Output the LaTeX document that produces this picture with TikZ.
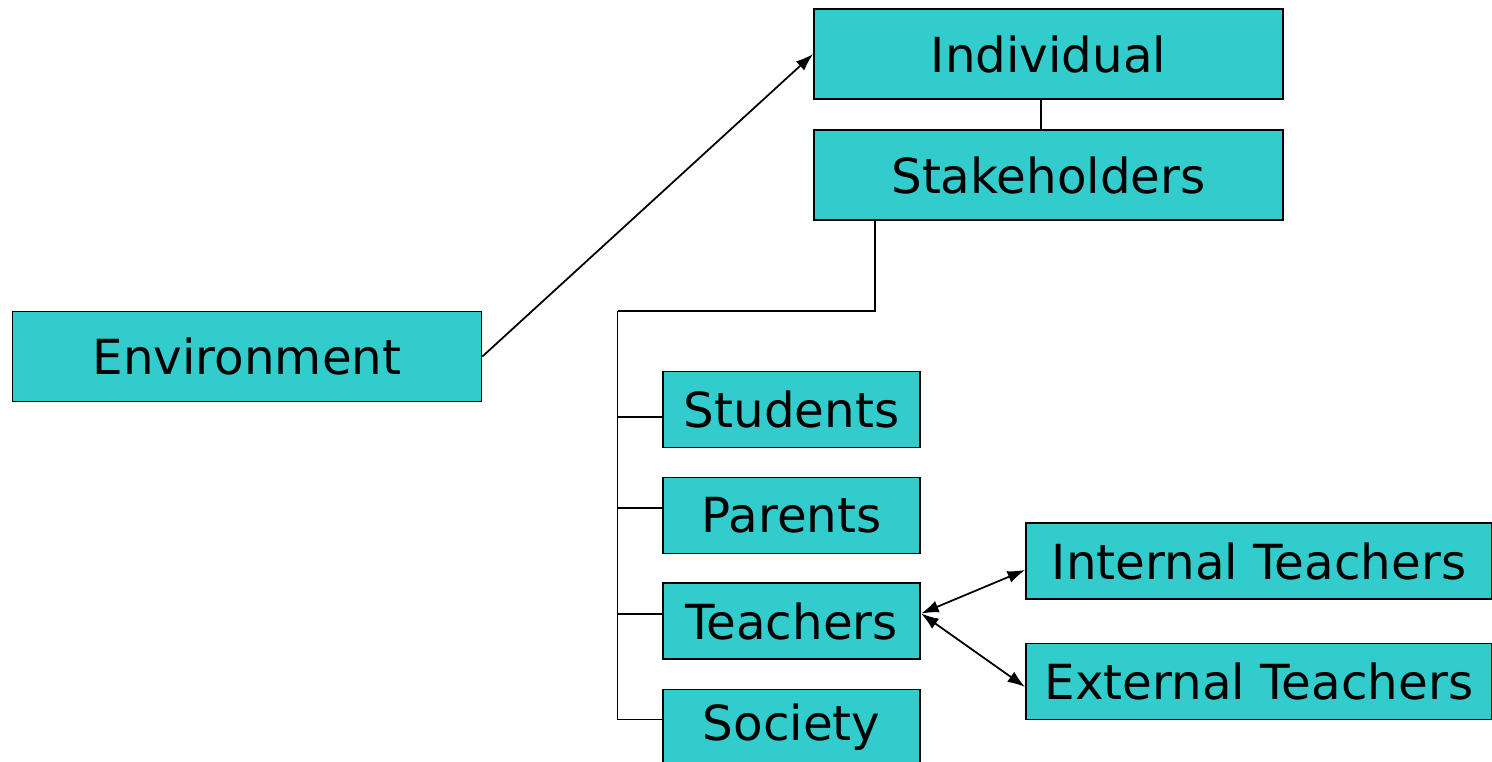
\documentclass[tikz,border=0pt]{standalone}
\usepackage{fontspec}
\setmainfont{DejaVu Sans}
\usetikzlibrary{arrows.meta}
\definecolor{boxcyan}{RGB}{51,204,204}
\begin{document}
\begin{tikzpicture}[line width=1pt, >={Latex[length=10pt,width=7pt]},
  box/.style={draw, fill=boxcyan, inner sep=0pt, font=\fontsize{27.5}{32}\selectfont},
  bigbox/.style={box, minimum width=9.38cm, minimum height=1.8cm},
  smallbox/.style={box, minimum width=5.15cm, minimum height=1.52cm},
  widebox/.style={box, minimum width=9.32cm, minimum height=1.52cm}]
\useasboundingbox (0,0) rectangle (29.84,-15.24);

\node [bigbox] (env) at (4.94,-7.13) {Environment};
\node [bigbox] (indiv) at (20.97,-1.08) {Individual};
\node [bigbox] (stake) at (20.97,-3.5) {Stakeholders};
\foreach \name/\txt/\y in {students/Students/-8.19, parents/Parents/-10.31, teachers/Teachers/-12.42, society/Society/-14.55}
  {\node [smallbox] (\name) at (15.83,\y) {\txt};}
\node [widebox] (internal) at (25.18,-11.22) {Internal Teachers};
\node [widebox] (external) at (25.18,-13.63) {External Teachers};

\draw [->] (env.east) -- (indiv.west);
\draw ([xshift=-0.15cm]indiv.south) -- ([xshift=-0.15cm]stake.north);

\coordinate (trunk) at (12.35,-6.22);
\draw ([xshift=1.23cm]stake.south west) |- (trunk);
\foreach \name/\dy in {students/-0.15, parents/0.15, teachers/0.14, society/0.16}
  {\draw ([yshift=\dy cm]\name.west) -| (trunk);}

\draw [<->] ([yshift=0.15cm]teachers.east) -- ([yshift=-0.18cm]internal.west);
\draw [<->] ([yshift=0.15cm]teachers.east) -- ([yshift=-0.11cm]external.west);

\end{tikzpicture}
\end{document}
